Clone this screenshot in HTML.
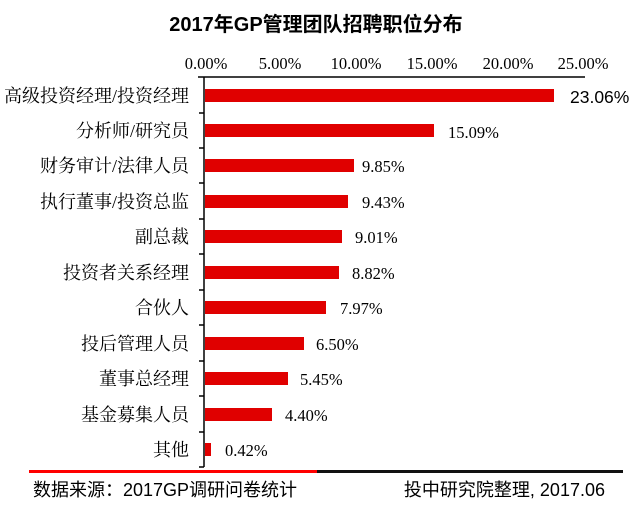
<!DOCTYPE html>
<html><head><meta charset="utf-8"><style>
body{margin:0;background:#fff;}
.s{font-family:"Liberation Serif","Noto Serif CJK SC",serif;}
.a{font-family:"Liberation Sans","Noto Sans CJK SC",sans-serif;}
</style></head><body>
<svg width="632" height="500" xmlns="http://www.w3.org/2000/svg">
<text class="a" x="316" y="31" text-anchor="middle" font-size="20" font-weight="bold">2017年GP管理团队招聘职位分布</text>
<g font-size="16.5" text-anchor="middle">
<text class="s" x="206" y="69">0.00%</text>
<text class="s" x="280" y="69">5.00%</text>
<text class="s" x="356" y="69">10.00%</text>
<text class="s" x="432" y="69">15.00%</text>
<text class="s" x="508" y="69">20.00%</text>
<text class="s" x="583" y="69">25.00%</text>
</g>
<line x1="198" y1="77" x2="585" y2="77" stroke="#000" stroke-width="1.5"/>
<line x1="204" y1="77" x2="204" y2="467" stroke="#000" stroke-width="1.5"/>
<g stroke="#000" stroke-width="1.5">
<line x1="199" y1="113" x2="204" y2="113"/><line x1="199" y1="148" x2="204" y2="148"/><line x1="199" y1="183" x2="204" y2="183"/><line x1="199" y1="219" x2="204" y2="219"/><line x1="199" y1="254" x2="204" y2="254"/><line x1="199" y1="290" x2="204" y2="290"/><line x1="199" y1="325" x2="204" y2="325"/><line x1="199" y1="361" x2="204" y2="361"/><line x1="199" y1="396" x2="204" y2="396"/><line x1="199" y1="432" x2="204" y2="432"/><line x1="199" y1="467" x2="204" y2="467"/>
</g>
<g fill="#e00000">
<rect x="205" y="89" width="349" height="13"/>
<rect x="205" y="124" width="229" height="13"/>
<rect x="205" y="159" width="149" height="13"/>
<rect x="205" y="195" width="143" height="13"/>
<rect x="205" y="230" width="137" height="13"/>
<rect x="205" y="266" width="134" height="13"/>
<rect x="205" y="301" width="121" height="13"/>
<rect x="205" y="337" width="99" height="13"/>
<rect x="205" y="372" width="83" height="13"/>
<rect x="205" y="408" width="67" height="13"/>
<rect x="205" y="443" width="6" height="13"/>
</g>
<g font-size="18" text-anchor="end">
<text class="s" x="189" y="102">高级投资经理/投资经理</text>
<text class="s" x="189" y="137">分析师/研究员</text>
<text class="s" x="189" y="172">财务审计/法律人员</text>
<text class="s" x="189" y="208">执行董事/投资总监</text>
<text class="s" x="189" y="243">副总裁</text>
<text class="s" x="189" y="279">投资者关系经理</text>
<text class="s" x="189" y="314">合伙人</text>
<text class="s" x="189" y="350">投后管理人员</text>
<text class="s" x="189" y="385">董事总经理</text>
<text class="s" x="189" y="421">基金募集人员</text>
<text class="s" x="189" y="456">其他</text>
</g>
<text class="a" x="570" y="103" font-size="17.5">23.06%</text>
<g font-size="16.5">
<text class="s" x="448" y="138">15.09%</text>
<text class="s" x="362" y="172">9.85%</text>
<text class="s" x="362" y="208">9.43%</text>
<text class="s" x="355" y="243">9.01%</text>
<text class="s" x="352" y="279">8.82%</text>
<text class="s" x="340" y="314">7.97%</text>
<text class="s" x="316" y="350">6.50%</text>
<text class="s" x="300" y="385">5.45%</text>
<text class="s" x="285" y="421">4.40%</text>
<text class="s" x="225" y="456">0.42%</text>
</g>
<rect x="29" y="470" width="288" height="3" fill="#ff0000"/>
<rect x="317" y="470" width="306" height="3" fill="#111"/>
<g font-size="18">
<text class="a" x="33" y="496">数据来源：2017GP调研问卷统计</text>
<text class="a" x="605" y="496" text-anchor="end">投中研究院整理, 2017.06</text>
</g>
</svg>
</body></html>
